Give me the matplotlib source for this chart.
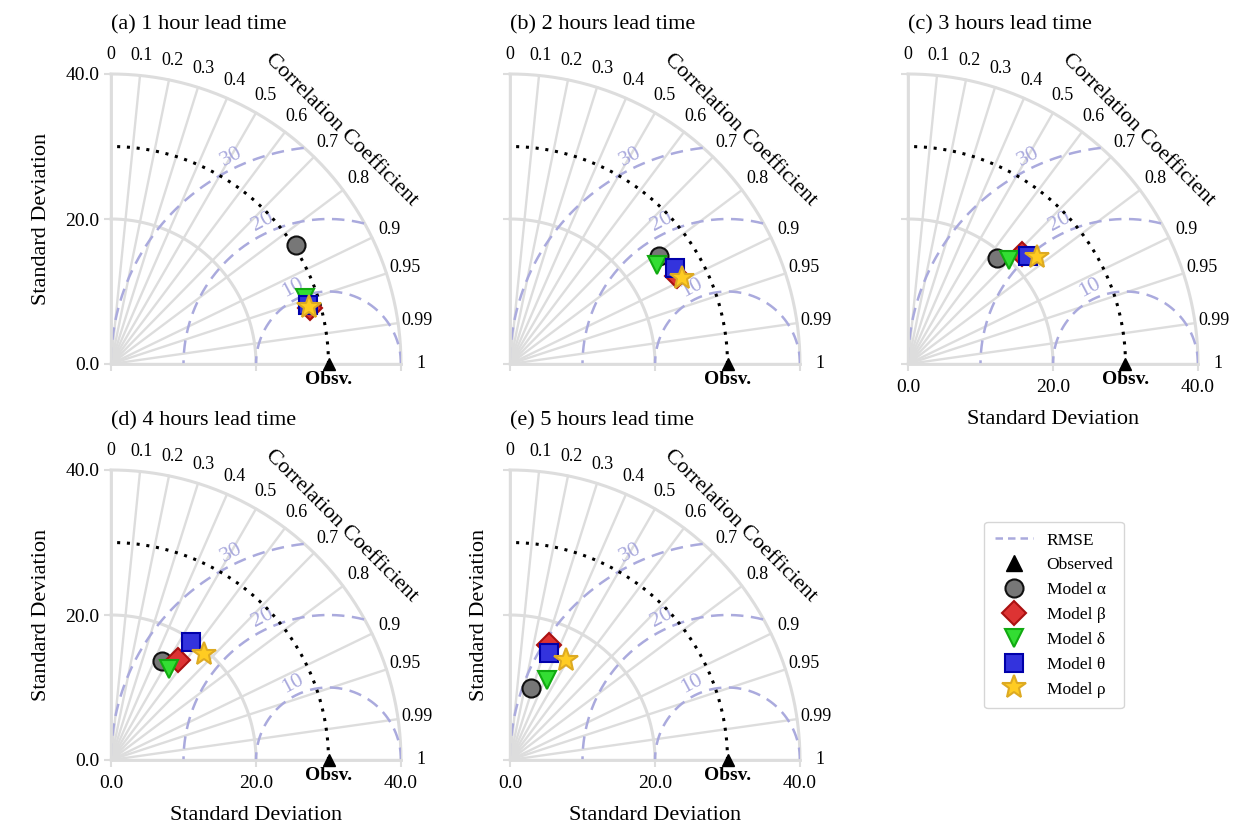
import numpy as np
import matplotlib
matplotlib.use('Agg')
import matplotlib.pyplot as plt

plt.rcParams['font.family'] = ['Liberation Serif', 'DejaVu Serif']

# standard deviation of the observations
ref_std = 30.0

panel_titles = ['(a) 1 hour lead time', '(b) 2 hours lead time', '(c) 3 hours lead time',
                '(d) 4 hours lead time', '(e) 5 hours lead time']
model_names = ['Model α', 'Model β', 'Model δ', 'Model θ', 'Model ρ']

# (std, corr) per panel, order: alpha, beta, delta, theta, rho
std_a = [30.3, 28.5, 28.2, 28.3, 28.4]
corr_a = [0.842, 0.962, 0.947, 0.958, 0.961]
std_b = [25.4, 26.0, 24.4, 26.4, 26.5]
corr_b = [0.81, 0.885, 0.83, 0.864, 0.893]
std_c = [19.1, 21.8, 20.0, 22.3, 23.1]
corr_c = [0.64, 0.72, 0.70, 0.744, 0.77]
std_d = [15.4, 16.6, 14.9, 19.7, 19.4]
corr_d = [0.46, 0.56, 0.54, 0.56, 0.66]
std_e = [10.4, 16.8, 12.2, 15.7, 15.8]
corr_e = [0.275, 0.32, 0.42, 0.34, 0.49]

all_std = [std_a, std_b, std_c, std_d, std_e]
all_corr = [corr_a, corr_b, corr_c, corr_d, corr_e]

corr_ticks = [0, 0.1, 0.2, 0.3, 0.4, 0.5, 0.6, 0.7, 0.8, 0.9, 0.95, 0.99, 1]
rmse_levels = [10, 20, 30]
std_max = 40.0

markers = ['o', 'D', 'v', 's', '*']
faces = ['#777777', '#dd3333', '#33dd33', '#3333dd', '#ffcc22']
edges = ['#111111', '#aa1111', '#11aa11', '#0000aa', '#ddaa22']
sizes = [13, 12.5, 13, 13, 18]

grid_col = '#dddddd'
rmse_col = '#aaaadd'

W, H = 1258, 840
fig = plt.figure(figsize=(W / 100, H / 100), dpi=100)

# axes origin positions in pixels (left, y of origin)
origins = [(111, 364), (510, 364), (908, 364), (111, 760), (510, 760)]
size_px = 290
show_ytick = [True, False, False, True, False]
show_ylab = [True, False, False, True, True]
show_xtick = [False, False, True, True, True]


def taylor(ax, stds, corrs, title, ytk, ylab, xtk):
    ax.set_xlim(0, std_max)
    ax.set_ylim(0, std_max)
    for s in ['top', 'right']:
        ax.spines[s].set_visible(False)
    for s in ['left', 'bottom']:
        ax.spines[s].set_color(grid_col)
        ax.spines[s].set_linewidth(2)
    ax.set_xticks([0, 20, 40])
    ax.set_yticks([0, 20, 40])
    ax.xaxis.set_major_formatter(matplotlib.ticker.FormatStrFormatter('%.1f'))
    ax.yaxis.set_major_formatter(matplotlib.ticker.FormatStrFormatter('%.1f'))
    ax.tick_params(colors=grid_col, labelcolor='black', labelsize=14, width=1.5, length=5)
    ax.tick_params(axis='x', labelbottom=xtk, pad=6)
    ax.tick_params(axis='y', labelleft=ytk)
    if ylab:
        ax.set_ylabel('Standard Deviation', fontsize=16, labelpad=10)
    if xtk:
        ax.set_xlabel('Standard Deviation', fontsize=16, labelpad=10)

    th = np.linspace(0, np.pi / 2, 200)
    # std arcs
    for r in [20, 40]:
        ax.plot(r * np.cos(th), r * np.sin(th), color=grid_col, lw=2.2, zorder=1, clip_on=False)
    # correlation rays
    for c in corr_ticks:
        a = np.arccos(c)
        ax.plot([0, std_max * np.cos(a)], [0, std_max * np.sin(a)], color=grid_col, lw=1.7,
                zorder=1, clip_on=False)
        ax.text(42.7 * np.cos(a), 42.7 * np.sin(a), f'{c:g}', fontsize=13,
                ha='center', va='center', clip_on=False)
    ax.text(45.3 * np.cos(np.radians(45.5)), 45.3 * np.sin(np.radians(45.5)),
            'Correlation Coefficient', rotation=-45, fontsize=16,
            ha='center', va='center', rotation_mode='anchor')

    # RMSE contours around the reference point
    phi = np.linspace(0, np.pi, 400)
    for lv in rmse_levels:
        x = ref_std + lv * np.cos(phi)
        y = lv * np.sin(phi)
        keep = (x ** 2 + y ** 2 <= std_max ** 2 + 1e-6) & (x >= 0)
        ax.plot(x[keep], y[keep], color=rmse_col, ls='--', lw=1.8, dashes=(5, 3), zorder=2)
        pa = np.radians(115)
        ax.text(ref_std + (lv + 1.6) * np.cos(pa), (lv + 1.6) * np.sin(pa), str(lv),
                color=rmse_col, fontsize=16, rotation=28, ha='center', va='center', zorder=3)

    # reference arc
    ax.plot(ref_std * np.cos(th), ref_std * np.sin(th), color='black', ls=(0, (1, 2.2)),
            lw=2.2, zorder=3)
    ax.plot([ref_std], [0], marker='^', color='black', ms=9, ls='none', zorder=6,
            clip_on=False)
    ax.text(ref_std, -0.9, 'Obsv.', fontweight='bold', fontsize=14, ha='center', va='top')

    for i in range(len(stds)):
        a = np.arccos(corrs[i])
        ax.plot(stds[i] * np.cos(a), stds[i] * np.sin(a), marker=markers[i], ls='none',
                ms=sizes[i], mfc=faces[i], mec=edges[i], mew=1.5, zorder=10 + i)

    ax.text(0.0, 1.168, title, transform=ax.transAxes, fontsize=16, ha='left', va='center')


for k in range(5):
    x0, y0 = origins[k]
    ax = fig.add_axes([x0 / W, (H - y0) / H, size_px / W, size_px / H])
    taylor(ax, all_std[k], all_corr[k], panel_titles[k], show_ytick[k], show_ylab[k],
           show_xtick[k])

# legend
handles = [plt.Line2D([], [], color=rmse_col, ls='--', lw=1.8, dashes=(3, 2)),
           plt.Line2D([], [], marker='^', color='black', ls='none', ms=12)]
for i in range(5):
    handles.append(plt.Line2D([], [], marker=markers[i], ls='none', ms=sizes[i],
                              mfc=faces[i], mec=edges[i], mew=1.5))
labels = ['RMSE', 'Observed'] + model_names
fig.legend(handles, labels, loc='center', bbox_to_anchor=(1054 / W, 1 - 615 / H),
           fontsize=12.5, frameon=True, edgecolor='#cccccc', labelspacing=0.5,
           handlelength=2.2, borderpad=0.6)

fig.savefig('out.png', dpi=100)
